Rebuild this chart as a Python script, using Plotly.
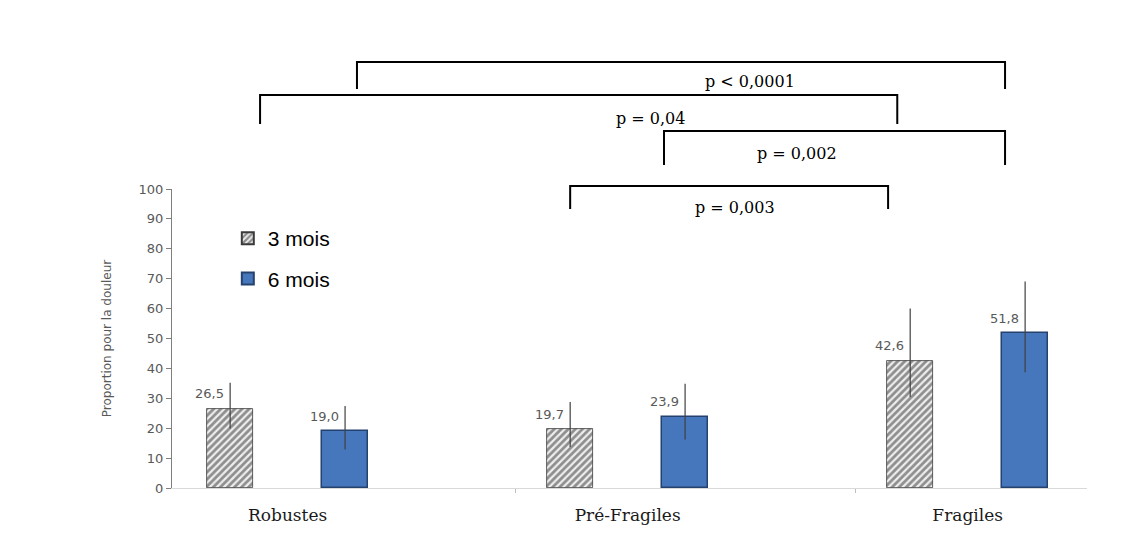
import plotly.graph_objects as go

# Pain proportion by frailty group, at 3 and 6 months
categories = ["Robustes", "Pré-Fragiles", "Fragiles"]
series_names = ["3 mois", "6 mois"]
values_3m = [26.5, 19.7, 42.6]
values_6m = [19.0, 23.9, 51.8]
ci_low_3m = [19.9, 13.7, 30.4]
ci_high_3m = [35.2, 28.8, 60.0]
ci_low_6m = [12.9, 16.2, 38.7]
ci_high_6m = [27.4, 34.9, 69.1]
y_ticks = [0, 10, 20, 30, 40, 50, 60, 70, 80, 90, 100]

# pairwise comparisons: (from group, series), (to group, series), label
comparisons = [
    ((0, 1), (2, 1), "p < 0,0001"),
    ((0, 0), (2, 0), "p = 0,04"),
    ((1, 1), (2, 1), "p = 0,002"),
    ((1, 0), (2, 0), "p = 0,003"),
]

# layout geometry
W, H = 1135, 538
M_L, M_R, M_T, M_B = 172, 48, 189, 50
X_RANGE = [-0.509, 2.182]
OFFSET_3M = -0.338   # 3 mois bar sits left of the 6 mois bar
BAR_W = 0.135
GREY_TXT = "#595959"

idx = list(range(len(categories)))
x3 = [i + OFFSET_3M for i in idx]
x6 = [i for i in idx]
xs = [x3, x6]

plot_h = H - M_T - M_B


def py_to_paper(py):
    return (H - M_B - py) / plot_h


fig = go.Figure()

fig.add_trace(go.Bar(
    x=x3, y=values_3m, width=BAR_W, name=series_names[0],
    legendgroup="a",
    marker=dict(
        color="white",
        line=dict(color="#3a3a3a", width=0.8),
        pattern=dict(shape="/", fgcolor="#2e2e2e", bgcolor="#eeeeee",
                     size=5, solidity=0.55),
    ),
    error_y=dict(type="data", symmetric=False,
                 array=[h - v for h, v in zip(ci_high_3m, values_3m)],
                 arrayminus=[v - l for l, v in zip(ci_low_3m, values_3m)],
                 color="#404040", thickness=1.2, width=0),
))

fig.add_trace(go.Bar(
    x=x6, y=values_6m, width=BAR_W, name=series_names[1],
    legendgroup="b",
    marker=dict(color="#4676bc", line=dict(color="#25426e", width=1.5)),
    error_y=dict(type="data", symmetric=False,
                 array=[h - v for h, v in zip(ci_high_6m, values_6m)],
                 arrayminus=[v - l for l, v in zip(ci_low_6m, values_6m)],
                 color="#404040", thickness=1.2, width=0),
))

annotations = []
# value labels above each bar
for xv, vals in zip(xs, [values_3m, values_6m]):
    for xx, v in zip(xv, vals):
        annotations.append(dict(
            x=xx, y=v, xref="x", yref="y", text=f"{v:.1f}".replace(".", ","),
            showarrow=False, xanchor="right", yanchor="middle",
            xshift=-4, yshift=15,
            font=dict(family="DejaVu Sans", size=13, color=GREY_TXT),
        ))

# significance brackets drawn above the plot area
bracket_rows = [  # (top px, leg bottom px, label centre px, x inset left, x inset right, label x)
    (62, 89, 81, 0.035, -0.059, 1.191),
    (95, 124, 119, 0.088, -0.038, 0.897),
    (131, 165, 153, -0.062, -0.059, 1.329),
    (186, 209, 207, 0.0, -0.065, 1.147),
]
shapes = []
for (a, b, label), (top, leg, ty, inl, inr, lx) in zip(comparisons, bracket_rows):
    x_left = xs[a[1]][a[0]] + inl
    x_right = xs[b[1]][b[0]] + inr
    y_top = py_to_paper(top)
    y_leg = py_to_paper(leg)
    shapes.append(dict(
        type="path", xref="x", yref="paper",
        path=f"M {x_left},{y_leg} L {x_left},{y_top} L {x_right},{y_top} L {x_right},{y_leg}",
        line=dict(color="black", width=2),
    ))
    annotations.append(dict(
        x=lx, y=py_to_paper(ty), xref="x", yref="paper", text=label,
        showarrow=False, xanchor="center", yanchor="middle",
        font=dict(family="DejaVu Serif", size=16, color="black"),
    ))

fig.update_layout(
    width=W, height=H,
    margin=dict(l=M_L, r=M_R, t=M_T, b=M_B, pad=0),
    paper_bgcolor="white", plot_bgcolor="white",
    showlegend=True,
    legend=dict(
        x=0.061, y=0.903, xanchor="left", yanchor="top",
        bgcolor="rgba(0,0,0,0)", borderwidth=0,
        traceorder="grouped", tracegroupgap=10,
        font=dict(family="Liberation Sans, Arial, sans-serif", size=21, color="black"),
        itemsizing="constant",
    ),
    bargap=0,
    annotations=annotations,
    shapes=shapes,
    xaxis=dict(
        range=X_RANGE, showgrid=False, zeroline=False,
        showline=True, linecolor="#d9d9d9", linewidth=1,
        tickmode="array",
        tickvals=[i + OFFSET_3M / 2 for i in idx], ticktext=categories,
        ticks="", ticklabelstandoff=12,
        tickfont=dict(family="DejaVu Serif", size=17, color="#1a1a1a"),
        minor=dict(tickmode="array", tickvals=[0.5, 1.5], ticks="outside",
                   ticklen=4, tickcolor="#bfbfbf", tickwidth=1),
    ),
    yaxis=dict(
        range=[0, 100], tickmode="array", tickvals=y_ticks,
        showgrid=False, zeroline=False,
        showline=True, linecolor="#7f7f7f", linewidth=1,
        ticks="outside", ticklen=5, tickcolor="#7f7f7f", tickwidth=1,
        tickfont=dict(family="DejaVu Sans", size=13, color=GREY_TXT),
        title=dict(text="Proportion pour la douleur", standoff=24,
                   font=dict(family="DejaVu Sans", size=12, color=GREY_TXT)),
    ),
)

fig.write_html("out.html")
